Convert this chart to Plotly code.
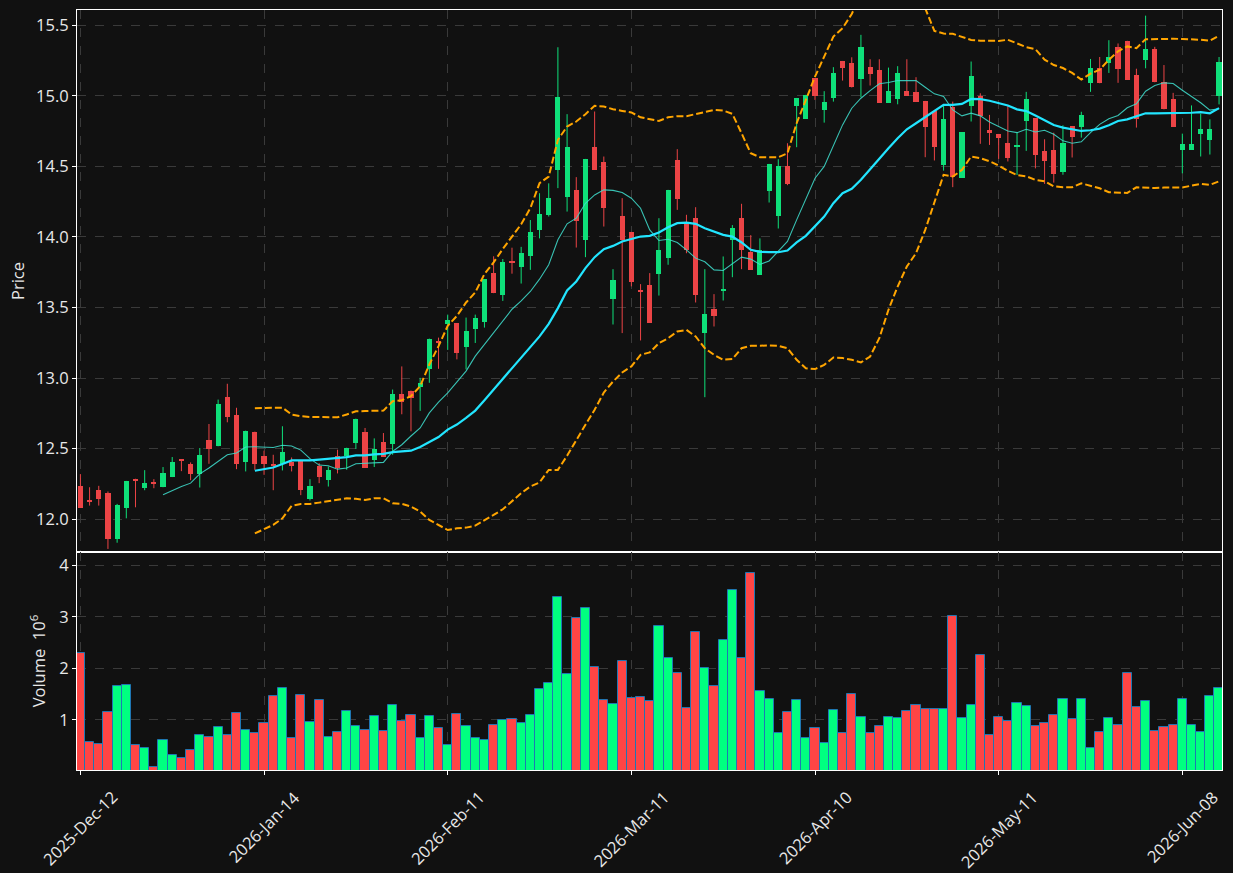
import plotly.graph_objects as go

# ---------------- data ----------------
tick_labels = ["2025-Dec-12", "2026-Jan-14", "2026-Feb-11", "2026-Mar-11",
               "2026-Apr-10", "2026-May-11", "2026-Jun-08"]
tick_step = 20  # one labelled date every 20 sessions

open_ = [12.237, 12.13, 12.209, 12.187, 11.86, 12.083, 12.287, 12.225, 12.261, 12.232,
         12.303, 12.422, 12.393, 12.32, 12.564, 12.517, 12.863, 12.742, 12.403, 12.621,
         12.45, 12.393, 12.393, 12.403, 12.416, 12.145, 12.379, 12.275, 12.45, 12.445,
         12.543, 12.621, 12.422, 12.55, 12.536, 12.891, 12.912, 12.936, 13.062, 13.261,
         13.384, 13.389, 13.22, 13.346, 13.398, 13.744, 13.588, 13.829, 13.789, 13.862,
         14.05, 14.157, 14.475, 14.28, 14.334, 13.98, 14.638, 14.532, 13.564, 14.15,
         14.036, 13.618, 13.661, 13.739, 13.852, 14.546, 14.093, 14.136, 13.323, 13.491,
         13.618, 13.98, 14.136, 13.895, 13.732, 14.329, 14.15, 14.504, 14.929, 14.837,
         15.125, 14.9, 14.985, 15.247, 15.233, 15.122, 15.205, 15.184, 14.952, 14.981,
         15.035, 15.028, 14.964, 14.889, 14.513, 14.919, 14.421, 14.931, 14.997, 14.759,
         14.73, 14.669, 14.638, 14.822, 14.84, 14.608, 14.615, 14.462, 14.784, 14.777,
         15.089, 15.2, 15.235, 15.347, 15.39, 15.15, 15.256, 15.333, 15.096, 14.981,
         14.617, 14.617, 14.728, 14.688, 14.998]
high = [12.32, 12.227, 12.237, 12.197, 12.109, 12.272, 12.287, 12.348, 12.284, 12.37,
        12.441, 12.427, 12.403, 12.505, 12.675, 12.848, 12.96, 12.79, 12.628, 12.621,
        12.486, 12.457, 12.659, 12.438, 12.416, 12.284, 12.398, 12.374, 12.493, 12.507,
        12.713, 12.647, 12.573, 12.611, 12.919, 13.083, 12.912, 13.002, 13.28, 13.287,
        13.45, 13.389, 13.429, 13.45, 13.701, 13.863, 13.844, 13.924, 13.93, 14.12,
        14.31, 14.38, 15.344, 14.87, 14.424, 14.553, 14.889, 14.57, 13.772, 14.275,
        14.036, 13.666, 13.744, 14.133, 14.334, 14.622, 14.157, 14.211, 13.772, 13.595,
        13.862, 14.084, 14.235, 14.013, 13.99, 14.518, 14.551, 14.664, 14.985, 15.007,
        15.125, 15.033, 15.203, 15.247, 15.273, 15.432, 15.259, 15.259, 15.2, 15.21,
        15.259, 15.132, 14.964, 14.889, 14.936, 14.959, 14.742, 15.243, 15.018, 14.865,
        14.73, 14.932, 14.744, 15.028, 14.84, 14.692, 14.739, 14.791, 14.784, 14.887,
        15.261, 15.275, 15.394, 15.371, 15.39, 15.192, 15.568, 15.347, 15.218, 15.021,
        14.732, 14.932, 14.873, 14.833, 15.275]
low = [12.08, 12.097, 12.097, 11.79, 11.834, 12.007, 12.085, 12.206, 12.22, 12.227,
       12.299, 12.341, 12.277, 12.225, 12.393, 12.517, 12.687, 12.355, 12.339, 12.35,
       12.315, 12.206, 12.346, 12.339, 12.171, 12.133, 12.256, 12.232, 12.325, 12.351,
       12.498, 12.365, 12.37, 12.443, 12.457, 12.744, 12.623, 12.768, 12.967, 13.066,
       13.2, 13.133, 13.062, 13.249, 13.358, 13.602, 13.547, 13.74, 13.67, 13.767,
       13.99, 14.145, 14.346, 14.18, 13.925, 13.857, 14.478, 14.074, 13.38, 13.319,
       13.65, 13.267, 13.394, 13.585, 13.803, 14.192, 13.885, 13.536, 12.865, 13.366,
       13.55, 13.715, 13.772, 13.767, 13.732, 14.244, 14.06, 14.367, 14.636, 14.837,
       14.971, 14.81, 14.959, 15.108, 15.059, 14.99, 15.073, 14.952, 14.952, 14.94,
       15.002, 14.959, 14.565, 14.542, 14.47, 14.353, 14.421, 14.818, 14.66, 14.652,
       14.553, 14.535, 14.439, 14.61, 14.486, 14.376, 14.385, 14.441, 14.563, 14.704,
       15.028, 15.089, 15.162, 15.092, 15.115, 14.775, 15.195, 15.096, 14.904, 14.779,
       14.451, 14.617, 14.57, 14.584, 14.939]
close = [12.083, 12.123, 12.145, 11.86, 12.10, 12.272, 12.268, 12.258, 12.254, 12.329,
         12.408, 12.415, 12.318, 12.457, 12.5, 12.82, 12.723, 12.393, 12.628, 12.393,
         12.393, 12.382, 12.479, 12.374, 12.204, 12.237, 12.301, 12.351, 12.363, 12.507,
         12.713, 12.365, 12.498, 12.443, 12.891, 12.829, 12.858, 12.969, 13.28, 13.246,
         13.41, 13.175, 13.332, 13.424, 13.701, 13.602, 13.82, 13.82, 13.886, 14.036,
         14.164, 14.275, 14.992, 14.638, 14.11, 14.553, 14.478, 14.202, 13.696, 13.98,
         13.682, 13.612, 13.394, 13.909, 14.334, 14.27, 13.909, 13.59, 13.456, 13.437,
         13.625, 14.062, 13.909, 13.767, 13.909, 14.518, 14.504, 14.376, 14.985, 15.007,
         15.0, 14.957, 15.162, 15.2, 15.059, 15.347, 15.158, 14.952, 15.035, 15.162,
         15.002, 14.959, 14.782, 14.64, 14.837, 14.428, 14.742, 15.139, 14.858, 14.735,
         14.70, 14.561, 14.655, 14.974, 14.582, 14.538, 14.448, 14.664, 14.709, 14.861,
         15.2, 15.089, 15.272, 15.192, 15.115, 14.833, 15.333, 15.096, 14.904, 14.779,
         14.657, 14.657, 14.763, 14.763, 15.242]
volume_m = [2.29, 0.56, 0.52, 1.16, 1.66, 1.68, 0.51, 0.46, 0.08, 0.60,
            0.32, 0.25, 0.41, 0.70, 0.66, 0.86, 0.70, 1.13, 0.80, 0.74,
            0.94, 1.46, 1.62, 0.64, 1.48, 0.95, 1.38, 0.66, 0.76, 1.17,
            0.88, 0.80, 1.07, 0.79, 1.29, 0.97, 1.09, 0.64, 1.07, 0.84,
            0.51, 1.11, 0.88, 0.64, 0.60, 0.90, 0.99, 1.01, 0.94, 1.09,
            1.60, 1.71, 3.39, 1.89, 2.97, 3.18, 2.03, 1.38, 1.31, 2.14,
            1.42, 1.44, 1.36, 2.82, 2.20, 1.91, 1.23, 2.71, 2.01, 1.66,
            2.55, 3.53, 2.20, 3.86, 1.56, 1.40, 0.74, 1.15, 1.38, 0.64,
            0.84, 0.55, 1.19, 0.74, 1.50, 1.05, 0.74, 0.88, 1.05, 1.03,
            1.17, 1.29, 1.21, 1.21, 1.21, 3.02, 1.03, 1.29, 2.26, 0.70,
            1.05, 0.97, 1.32, 1.27, 0.88, 0.94, 1.09, 1.40, 1.01, 1.40,
            0.45, 0.76, 1.03, 0.90, 1.91, 1.25, 1.36, 0.78, 0.86, 0.90,
            1.40, 0.90, 0.76, 1.46, 1.62]

# moving averages and bands (they start later than the prices)
ma10 = [12.173, 12.205, 12.232, 12.256, 12.322, 12.363, 12.41, 12.457, 12.469, 12.512,
        12.514, 12.512, 12.509, 12.524, 12.519, 12.49, 12.43, 12.384, 12.379, 12.355,
        12.363, 12.393, 12.395, 12.40, 12.403, 12.481, 12.528, 12.59, 12.647, 12.754,
        12.83, 12.896, 12.97, 13.05, 13.156, 13.24, 13.322, 13.40, 13.488, 13.547,
        13.614, 13.701, 13.803, 13.98, 14.093, 14.133, 14.239, 14.298, 14.334, 14.33,
        14.315, 14.275, 14.204, 14.05, 13.975, 13.984, 13.961, 13.909, 13.85, 13.824,
        13.767, 13.763, 13.81, 13.857, 13.843, 13.805, 13.83, 13.897, 13.968, 14.121,
        14.275, 14.416, 14.5, 14.641, 14.794, 14.912, 14.983, 15.037, 15.085, 15.094,
        15.108, 15.108, 15.108, 15.061, 15.014, 14.995, 14.9, 14.858, 14.877, 14.858,
        14.814, 14.782, 14.751, 14.739, 14.763, 14.744, 14.756, 14.728, 14.681, 14.664,
        14.674, 14.739, 14.798, 14.838, 14.861, 14.915, 14.944, 15.033, 15.073, 15.092,
        15.087, 15.04, 14.998, 14.951, 14.899, 14.908]
ma20 = [12.344, 12.356, 12.367, 12.391, 12.417, 12.418, 12.417, 12.422, 12.427, 12.434,
        12.441, 12.453, 12.453, 12.46, 12.464, 12.476, 12.481, 12.486, 12.512, 12.545,
        12.583, 12.635, 12.671, 12.718, 12.77, 12.844, 12.919, 12.998, 13.073, 13.152,
        13.22, 13.296, 13.385, 13.496, 13.621, 13.685, 13.779, 13.857, 13.914, 13.937,
        13.968, 13.987, 14.003, 14.008, 14.032, 14.069, 14.098, 14.102, 14.093, 14.062,
        14.039, 14.015, 14.003, 13.961, 13.909, 13.895, 13.892, 13.892, 13.904, 13.961,
        14.008, 14.074, 14.145, 14.239, 14.31, 14.341, 14.405, 14.48, 14.558, 14.629,
        14.7, 14.763, 14.806, 14.848, 14.889, 14.936, 14.936, 14.943, 14.978, 14.976,
        14.965, 14.95, 14.932, 14.904, 14.892, 14.861, 14.829, 14.793, 14.775, 14.763,
        14.751, 14.756, 14.768, 14.791, 14.822, 14.833, 14.852, 14.876, 14.876, 14.876,
        14.876, 14.878, 14.88, 14.885, 14.876, 14.913]
bb_upper = [12.787, 12.788, 12.79, 12.791, 12.742, 12.73, 12.725, 12.724, 12.723, 12.723,
            12.742, 12.765, 12.767, 12.768, 12.77, 12.836, 12.844, 12.872, 12.943, 13.097,
            13.227, 13.37, 13.441, 13.536, 13.607, 13.737, 13.82, 13.915, 14.0, 14.09,
            14.204, 14.381, 14.428, 14.688, 14.782, 14.818, 14.87, 14.929, 14.924, 14.905,
            14.893, 14.882, 14.848, 14.837, 14.822, 14.848, 14.856, 14.856, 14.87, 14.889,
            14.9, 14.896, 14.872, 14.735, 14.593, 14.565, 14.565, 14.565, 14.593, 14.806,
            14.971, 15.136, 15.278, 15.42, 15.479, 15.58, 15.72, 15.82, 15.88, 15.9,
            15.88, 15.82, 15.72, 15.62, 15.46, 15.441, 15.439, 15.42, 15.396, 15.391,
            15.39, 15.389, 15.397, 15.373, 15.345, 15.331, 15.256, 15.218, 15.197, 15.162,
            15.115, 15.157, 15.185, 15.256, 15.315, 15.35, 15.338, 15.401, 15.403, 15.403,
            15.404, 15.403, 15.401, 15.397, 15.39, 15.427]
bb_lower = [11.9, 11.93, 11.96, 12.007, 12.095, 12.109, 12.109, 12.118, 12.13, 12.142,
            12.149, 12.145, 12.137, 12.149, 12.149, 12.114, 12.109, 12.09, 12.055, 11.995,
            11.96, 11.924, 11.936, 11.941, 11.955, 11.99, 12.031, 12.071, 12.126, 12.185,
            12.232, 12.261, 12.35, 12.35, 12.45, 12.563, 12.67, 12.776, 12.898, 12.976,
            13.04, 13.083, 13.165, 13.182, 13.248, 13.283, 13.33, 13.342, 13.295, 13.212,
            13.165, 13.13, 13.135, 13.212, 13.229, 13.229, 13.232, 13.229, 13.212, 13.13,
            13.07, 13.064, 13.094, 13.146, 13.142, 13.13, 13.111, 13.153, 13.283, 13.484,
            13.649, 13.791, 13.885, 14.05, 14.239, 14.44, 14.428, 14.475, 14.57, 14.558,
            14.537, 14.506, 14.469, 14.439, 14.43, 14.404, 14.394, 14.359, 14.352, 14.352,
            14.38, 14.364, 14.345, 14.317, 14.312, 14.312, 14.352, 14.347, 14.347, 14.35,
            14.35, 14.35, 14.364, 14.376, 14.369, 14.394]

# ---------------- styling ----------------
BG = "#111111"
UP_C, DN_C = "#0fe07a", "#ec4446"
VUP_C, VDN_C = "#00ff80", "#ff4545"
GRID = "#3a3a3a"
TXT = "#e8e8e8"
FONT = "Open Sans"
FS = 16.5

n = len(close)
xs = list(range(n))
up = [c >= o for o, c in zip(open_, close)]

fig = go.Figure()

# wicks (drawn under the bodies)
for flag, col in ((True, UP_C), (False, DN_C)):
    wx, wy = [], []
    for i in xs:
        if up[i] == flag:
            wx += [i, i, None]
            wy += [low[i], high[i], None]
    fig.add_trace(go.Scatter(x=wx, y=wy, mode="lines", line=dict(color=col, width=1),
                             hoverinfo="skip", showlegend=False, xaxis="x", yaxis="y"))

# bodies
for flag, col in ((True, UP_C), (False, DN_C)):
    idx = [i for i in xs if up[i] == flag]
    fig.add_trace(go.Bar(
        x=idx,
        base=[min(open_[i], close[i]) for i in idx],
        y=[max(abs(close[i] - open_[i]), 0.007) for i in idx],
        width=0.56, marker=dict(color=col, line=dict(width=0)),
        showlegend=False, xaxis="x", yaxis="y"))

def tail_x(series):
    return list(range(n - len(series), n))

for band in (bb_upper, bb_lower):
    fig.add_trace(go.Scatter(x=tail_x(band), y=band, mode="lines",
                             line=dict(color="#ffa500", width=2, dash="7px,3px"),
                             showlegend=False, xaxis="x", yaxis="y"))
fig.add_trace(go.Scatter(x=tail_x(ma10), y=ma10, mode="lines",
                         line=dict(color="rgba(64,224,208,0.85)", width=1.1),
                         showlegend=False, xaxis="x", yaxis="y"))
fig.add_trace(go.Scatter(x=tail_x(ma20), y=ma20, mode="lines",
                         line=dict(color="#22e5ff", width=2.2),
                         showlegend=False, xaxis="x", yaxis="y"))

# volume
fig.add_trace(go.Bar(
    x=xs, y=volume_m, width=1.0,
    marker=dict(color=[VUP_C if u else VDN_C for u in up],
                line=dict(color="#1f77b4", width=1)),
    showlegend=False, xaxis="x2", yaxis="y2"))

split = 0.2868
xrange_ = [-0.37, 124.32]
tickvals = list(range(0, n, tick_step))[:len(tick_labels)]

axis_common = dict(showline=True, linecolor="white", linewidth=1, mirror=True,
                   showgrid=True, gridcolor=GRID, griddash="dash", gridwidth=1,
                   zeroline=False, tickfont=dict(family=FONT, size=FS, color=TXT))

# rotated date labels, centred on their ticks (matplotlib style)
annotations = [dict(x=v, y=0, xref="x2", yref="paper", text=t, textangle=-45,
                    showarrow=False, xanchor="center", yanchor="top", yshift=-13,
                    font=dict(family=FONT, size=FS, color=TXT))
               for v, t in zip(tickvals, tick_labels)]

fig.update_layout(
    width=1233, height=873,
    margin=dict(l=77, r=11, t=10, b=103),
    paper_bgcolor=BG, plot_bgcolor=BG,
    barmode="overlay", bargap=0,
    font=dict(family=FONT, color=TXT),
    annotations=annotations,
    xaxis=dict(domain=[0, 1], anchor="y", range=xrange_, tickvals=tickvals,
               showticklabels=False, ticks="", **axis_common),
    yaxis=dict(domain=[split, 1], anchor="x", range=[11.768, 15.608],
               tickvals=[12.0, 12.5, 13.0, 13.5, 14.0, 14.5, 15.0, 15.5], tickformat=".1f",
               ticks="outside", ticklen=4, tickcolor="white",
               title=dict(text="Price", font=dict(family=FONT, size=FS, color=TXT), standoff=7),
               **axis_common),
    xaxis2=dict(domain=[0, 1], anchor="y2", range=xrange_, matches="x",
                tickvals=tickvals, showticklabels=False,
                ticks="outside", ticklen=4, tickcolor="white", **axis_common),
    yaxis2=dict(domain=[0, split], anchor="x2", range=[0.025, 4.26],
                tickvals=[1, 2, 3, 4], ticks="outside", ticklen=4, tickcolor="white",
                title=dict(text="Volume\u00a0\u00a010<sup>6</sup>",
                           font=dict(family=FONT, size=FS, color=TXT), standoff=9),
                **axis_common),
)

fig.write_html("out.html")
